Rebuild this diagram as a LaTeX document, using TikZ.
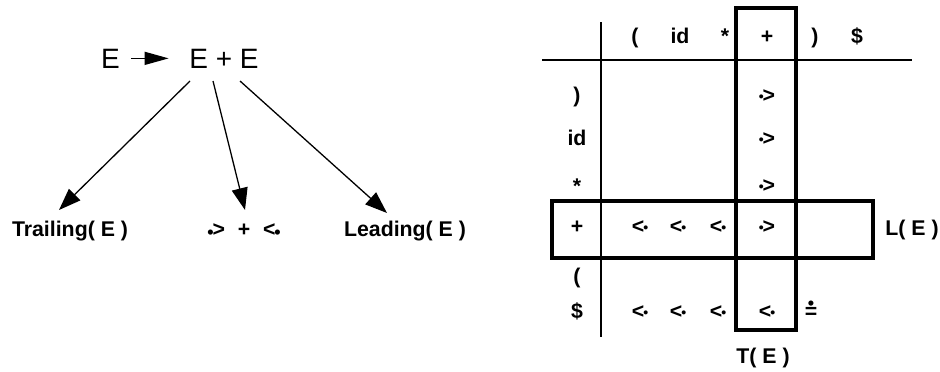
\documentclass[tikz,border=0pt]{standalone}
\usepackage{fontspec}
\setmainfont{Liberation Sans}
\usetikzlibrary{arrows.meta}
% round dots used in the precedence relations
\newcommand{\lowdot}{\raisebox{-2.6pt}{\fontsize{18}{18}\selectfont\textbullet}}
\newcommand{\middot}{\raisebox{1pt}{\fontsize{14}{14}\selectfont\textbullet}}
\newcommand{\dotgt}{\middot\kern-1pt>}
\newcommand{\ltdot}{<\kern-1pt\middot}
\newcommand{\doteqsym}{\ooalign{=\cr\hidewidth\raisebox{9pt}{\fontsize{18}{18}\selectfont\textbullet}\hidewidth\cr}}
\begin{document}
\begin{tikzpicture}[x=1pt,y=-1pt,
  lab/.style={font=\fontsize{21.3}{25}\selectfont\bfseries, inner sep=0pt, anchor=base},
  big/.style={font=\fontsize{28}{32}\selectfont, inner sep=0pt, anchor=base},
  link/.style={line width=1.3pt, -{Triangle[length=22pt,width=16pt]}},
  gridline/.style={line width=2pt},
  band/.style={line width=3.2pt}]
\useasboundingbox (0,0) rectangle (940,372);

% production E -> E + E
\node[big] (lhs) at (110.5,68) {E};
\node[big] (rhs) at (224,68) {E + E};
\draw[line width=1.3pt, -{Triangle[length=24pt,width=13pt]}]
  ([xshift=11pt]lhs.east) -- ([xshift=-20.5pt]rhs.west);

% derived sets
\node[lab] (trail) at (70,236) {Trailing( E )};
\node[lab] (rel) at (244,236) {\lowdot\kern-1pt>\hspace{0.6em}+\hspace{0.6em}<\kern-1pt\lowdot};
\node[lab] (lead) at (405,236) {Leading( E )};

\draw[link] ([shift={(-34,13)}]rhs.base) -- ([shift={(-11,-26)}]trail.base);
\draw[link] ([shift={(-11,13)}]rhs.base) -- ([shift={(1,-26)}]rel.base);
\draw[link] ([shift={(16,13)}]rhs.base) -- ([shift={(-18,-23)}]lead.base);

% precedence table: rules
\draw[gridline] (601,22) -- (601,337);
\draw[gridline] (542,60) -- (912,60);
\draw[band] (736,8) rectangle (796,330);
\draw[band] (552,201) rectangle (873,258);

% column heads
\node[lab] (hlp) at (635,43) {(};
\node[lab] (hid) at (680,43) {id};
\node[lab] (hst) at (725,43) {*};
\node[lab] (hpl) at (767,43) {+};
\node[lab] (hrp) at (815,43) {)};
\node[lab] (hdl) at (857,43) {\$};

% row heads
\node[lab] (rrp) at (577,102) {)};
\node[lab] (rid) at (577,145) {id};
\node[lab] (rst) at (577,193) {*};
\node[lab] (rpl) at (577,233) {+};
\node[lab] (rlp) at (577,283) {(};
\node[lab] (rdl) at (577,318) {\$};

% entries
\node[lab] (c1) at (767,102) {\dotgt};
\node[lab] (c2) at (767,145) {\dotgt};
\node[lab] (c3) at (767,192) {\dotgt};
\node[lab] (c4) at (640,233) {\ltdot};
\node[lab] (c5) at (678,233) {\ltdot};
\node[lab] (c6) at (718,233) {\ltdot};
\node[lab] (c7) at (767,233) {\dotgt};
\node[lab] (c8) at (640,318) {\ltdot};
\node[lab] (c9) at (678,318) {\ltdot};
\node[lab] (c10) at (718,318) {\ltdot};
\node[lab] (c11) at (767,318) {\ltdot};
\node[lab] (c12) at (811,318) {\doteqsym};

% band labels
\node[lab] (lbl) at (912,235) {L( E )};
\node[lab] (tbl) at (763,363) {T( E )};
\end{tikzpicture}
\end{document}
